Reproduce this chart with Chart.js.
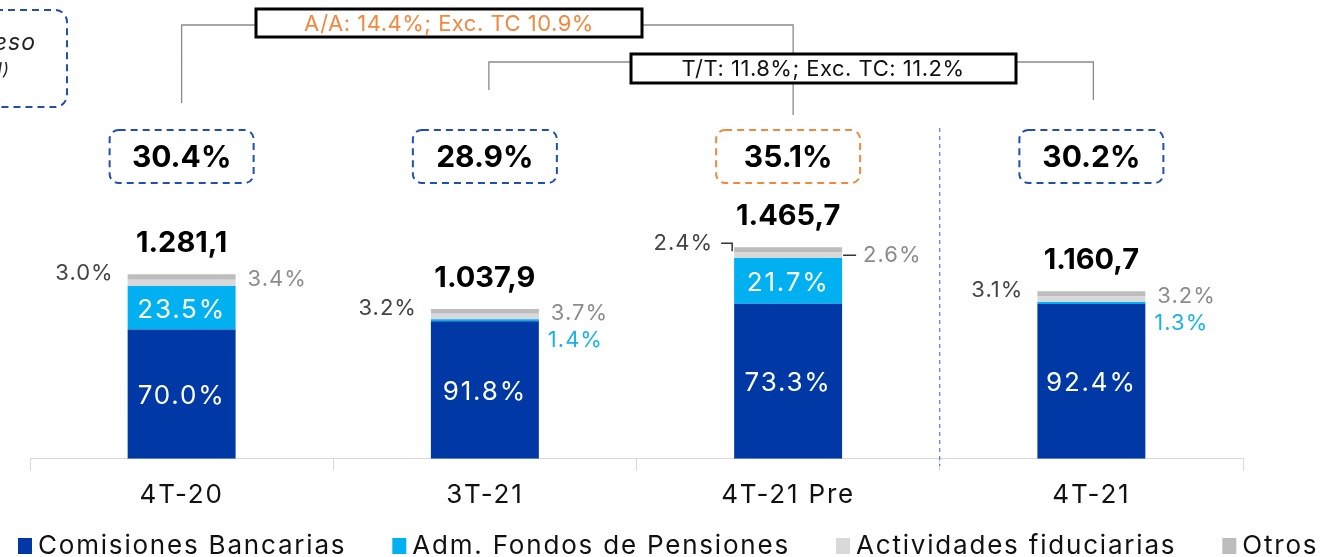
<!DOCTYPE html>
<html>
<head>
<meta charset="utf-8">
<script src="https://cdn.jsdelivr.net/npm/chart.js@4/dist/chart.umd.min.js"></script>
<style>
  html, body { margin: 0; padding: 0; background: #fff; overflow: hidden; }
  #wrap { width: 1327px; height: 557px; }
</style>
</head>
<body>
<div id="wrap"><canvas id="ingresosChart" width="1327" height="557"></canvas></div>
<script>
// Trimestres y composición del ingreso por comisiones (%)
const categories = ['4T-20', '3T-21', '4T-21 Pre', '4T-21'];
const totals = [1281.1, 1037.9, 1465.7, 1160.7];
const comisionesShare = [70.0, 91.8, 73.3, 92.4];
const fondosShare = [23.5, 1.4, 21.7, 1.3];
const fiduciariasShare = [3.4, 3.7, 2.6, 3.2];
const otrosShare = [3.0, 3.2, 2.4, 3.1];
// Cuadros superiores
const boxLabels = ['30.4%', '28.9%', '35.1%', '30.2%'];
const growthYoY = 'A/A: 14.4%; Exc. TC 10.9%';
const growthQoQ = 'T/T: 11.8%; Exc. TC: 11.2%';

const BLUE = '#0039a6';
const CYAN = '#00b0f0';
const LIGHT = '#d9d9d9';
const GREY = '#bdbdbd';
const ORANGE = '#f0883e';
const FONT = 'Inter, "Noto Sans", sans-serif';

const toValues = shares => shares.map((s, i) => totals[i] * s / 100);

function fmtTotal(v) {
  const [ent, dec] = v.toFixed(1).split('.');
  return ent.replace(/\B(?=(\d{3})+(?!\d))/g, '.') + ',' + dec;
}

function roundRect(ctx, x, y, w, h, r) {
  ctx.beginPath();
  ctx.moveTo(x + r, y);
  ctx.arcTo(x + w, y, x + w, y + h, r);
  ctx.arcTo(x + w, y + h, x, y + h, r);
  ctx.arcTo(x, y + h, x, y, r);
  ctx.arcTo(x, y, x + w, y, r);
  ctx.closePath();
}

// texto algo más abierto para todo el lienzo (ejes incluidos)
const spacingPlugin = {
  id: 'spacing',
  beforeDraw(chart) { chart.ctx.letterSpacing = '1.8px'; },
  afterDraw(chart) { chart.ctx.letterSpacing = '0px'; }
};

// etiquetas de porcentaje, totales y cuadros de cada barra
const labelsPlugin = {
  id: 'barLabels',
  afterDatasetsDraw(chart) {
    const ctx = chart.ctx;
    const metas = chart.data.datasets.map((d, i) => chart.getDatasetMeta(i));
    ctx.save();
    categories.forEach((cat, i) => {
      const base = metas[0].data[i];
      const x = base.x;
      const left = x - base.width / 2;
      const right = x + base.width / 2;
      const top = metas[3].data[i].y;
      const withLeader = cat === '4T-21 Pre';

      // segmentos grandes: texto blanco dentro
      ctx.letterSpacing = '1.8px';
      [comisionesShare, fondosShare].forEach((shares, d) => {
        if (shares[i] < 10) return;
        const el = metas[d].data[i];
        ctx.fillStyle = '#fff';
        ctx.font = '26px ' + FONT;
        ctx.textAlign = 'center';
        ctx.textBaseline = 'middle';
        ctx.fillText(shares[i].toFixed(1) + '%', x, (el.y + el.base) / 2 + 2);
      });

      // Otros a la izquierda
      ctx.letterSpacing = '1px';
      ctx.font = '22px ' + FONT;
      ctx.textBaseline = 'middle';
      ctx.fillStyle = '#444';
      ctx.textAlign = 'right';
      const oy = top - (withLeader ? 4 : 1);
      ctx.fillText(otrosShare[i].toFixed(1) + '%', left - (withLeader ? 21 : 14), oy);

      // Actividades fiduciarias a la derecha
      const fid = metas[2].data[i];
      const fy = (fid.y + fid.base) / 2 - (withLeader ? 0 : 3);
      ctx.fillStyle = '#8c8c8c';
      ctx.textAlign = 'left';
      ctx.fillText(fiduciariasShare[i].toFixed(1) + '%', right + (withLeader ? 21 : 12), fy);

      if (fondosShare[i] < 10) {
        ctx.fillStyle = '#19b3ea';
        ctx.fillText(fondosShare[i].toFixed(1) + '%', right + 9, fy + 27);
      }

      if (withLeader) {
        ctx.strokeStyle = '#333';
        ctx.lineWidth = 1.5;
        ctx.beginPath();
        ctx.moveTo(left - 13, oy);
        ctx.lineTo(left - 2, oy);
        ctx.lineTo(left - 2, top + 4);
        ctx.moveTo(right + 1, fy);
        ctx.lineTo(right + 14, fy);
        ctx.stroke();
      }

      // total
      ctx.letterSpacing = '0px';
      ctx.fillStyle = '#000';
      ctx.font = 'bold 29px ' + FONT;
      ctx.textAlign = 'center';
      ctx.fillText(fmtTotal(totals[i]), x, top - 31);

      // cuadro punteado
      ctx.setLineDash([7, 5]);
      ctx.lineWidth = 2;
      ctx.strokeStyle = cat === '4T-21 Pre' ? ORANGE : '#1f4fb0';
      roundRect(ctx, x - 72, 130, 144, 53, 9);
      ctx.stroke();
      ctx.setLineDash([]);
      ctx.fillStyle = '#000';
      ctx.font = 'bold 30px ' + FONT;
      ctx.fillText(boxLabels[i], x, 158);
    });
    ctx.restore();
  }
};

// corchetes de crecimiento, separador y leyenda
const notesPlugin = {
  id: 'notes',
  afterDraw(chart) {
    const ctx = chart.ctx;
    const xs = chart.scales.x;
    const cx = i => xs.getPixelForValue(i);
    ctx.save();

    // cuadro recortado a la izquierda
    ctx.setLineDash([7, 5]);
    ctx.lineWidth = 2;
    ctx.strokeStyle = '#1f4fb0';
    roundRect(ctx, -160, 10, 227, 97, 12);
    ctx.stroke();
    ctx.setLineDash([]);
    ctx.fillStyle = '#222';
    ctx.textAlign = 'right';
    ctx.textBaseline = 'middle';
    ctx.letterSpacing = '1px';
    ctx.font = 'italic 23px ' + FONT;
    ctx.fillText('Ingreso', 36, 43);
    ctx.font = 'italic 17px ' + FONT;
    ctx.fillText('(% del total)', 10, 70);

    // corchetes
    ctx.strokeStyle = '#8a8a8a';
    ctx.lineWidth = 1.3;
    ctx.beginPath();
    ctx.moveTo(cx(0), 103); ctx.lineTo(cx(0), 25); ctx.lineTo(640, 25);
    ctx.lineTo(cx(2) + 5, 25); ctx.lineTo(cx(2) + 5, 115);
    ctx.moveTo(cx(1) + 4, 90); ctx.lineTo(cx(1) + 4, 62); ctx.lineTo(cx(3) + 2, 62);
    ctx.lineTo(cx(3) + 2, 100);
    ctx.stroke();

    ctx.lineWidth = 3;
    ctx.strokeStyle = '#000';
    ctx.fillStyle = '#fff';
    ctx.fillRect(256, 9, 386, 28);
    ctx.strokeRect(256, 9, 386, 28);
    ctx.fillRect(631, 54, 385, 29);
    ctx.strokeRect(631, 54, 385, 29);
    ctx.letterSpacing = '0.5px';
    ctx.font = '22px ' + FONT;
    ctx.textAlign = 'center';
    ctx.fillStyle = ORANGE;
    ctx.fillText(growthYoY, 449, 24);
    ctx.fillStyle = '#111';
    ctx.fillText(growthQoQ, 823, 69);

    // separador punteado entre 4T-21 Pre y 4T-21
    const sep = (cx(2) + cx(3)) / 2;
    ctx.setLineDash([4, 4]);
    ctx.lineWidth = 1;
    ctx.strokeStyle = '#3565c5';
    ctx.beginPath();
    ctx.moveTo(sep, 128);
    ctx.lineTo(sep, 466);
    ctx.stroke();
    ctx.setLineDash([]);

    // leyenda
    let lx = 18;
    ctx.letterSpacing = '1.8px';
    ctx.font = '26px ' + FONT;
    ctx.textAlign = 'left';
    ctx.textBaseline = 'middle';
    chart.data.datasets.forEach(ds => {
      ctx.fillStyle = ds.backgroundColor;
      ctx.fillRect(lx, 538, 14, 16);
      ctx.fillStyle = '#111';
      ctx.fillText(ds.label, lx + 20, 546);
      lx += 20 + ctx.measureText(ds.label).width + 46;
    });
    ctx.restore();
  }
};

new Chart(document.getElementById('ingresosChart'), {
  type: 'bar',
  data: {
    labels: categories,
    datasets: [
      { label: 'Comisiones Bancarias', data: toValues(comisionesShare), backgroundColor: BLUE },
      { label: 'Adm. Fondos de Pensiones', data: toValues(fondosShare), backgroundColor: CYAN },
      { label: 'Actividades fiduciarias', data: toValues(fiduciariasShare), backgroundColor: LIGHT },
      { label: 'Otros', data: toValues(otrosShare), backgroundColor: GREY }
    ]
  },
  options: {
    responsive: false,
    animation: false,
    devicePixelRatio: 1,
    layout: { padding: { left: 30, right: 84, top: 0, bottom: 37 } },
    datasets: { bar: { categoryPercentage: 1, barPercentage: 0.356 } },
    plugins: { legend: { display: false }, tooltip: { enabled: false } },
    scales: {
      x: {
        stacked: true,
        grid: { offset: true, drawOnChartArea: false, tickLength: 12, color: '#d9d9d9' },
        border: { color: '#d9d9d9' },
        ticks: { color: '#111', padding: 9, font: { family: FONT, size: 26 } }
      },
      y: { stacked: true, display: false, min: 0, max: 3180 }
    }
  },
  plugins: [spacingPlugin, labelsPlugin, notesPlugin]
});
</script>
</body>
</html>
